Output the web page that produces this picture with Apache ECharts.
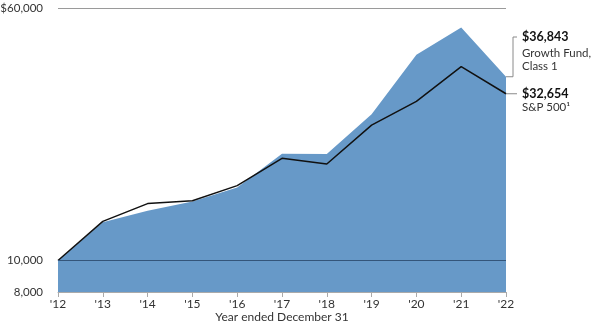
<!DOCTYPE html>
<html>
<head>
<meta charset="utf-8">
<script src="https://cdn.jsdelivr.net/npm/echarts@6/dist/echarts.min.js"></script>
<style>
  html, body { margin: 0; padding: 0; background: #fff; }
  #chart { width: 592px; height: 324px; }
</style>
</head>
<body>
<div id="chart"></div>
<script>
// Growth of a $10,000 investment, year-end values (log scale)
const years = ["'12", "'13", "'14", "'15", "'16", "'17", "'18", "'19", "'20", "'21", "'22"];
const growthFund = [10000, 13130, 14240, 15200, 16780, 21340, 21300, 28240, 43060, 52220, 36843];
const sp500 = [10000, 13200, 14980, 15280, 17020, 20650, 19840, 26140, 30950, 39560, 32654];
const yTicks = [8000, 10000, 60000];

const FONT = 'Lato, "Noto Sans", sans-serif';
const chart = echarts.init(document.getElementById('chart'));

const fmtMoney = v => '$' + v.toLocaleString('en-US');

chart.setOption({
  animation: false,
  grid: { left: 58, right: 86, top: 8, bottom: 32, containLabel: false, outerBoundsMode: 'none' },
  xAxis: {
    type: 'category',
    data: years,
    boundaryGap: false,
    name: 'Year ended December 31',
    nameLocation: 'middle',
    nameGap: 19,
    nameMoveOverlap: false,
    nameTextStyle: { fontFamily: FONT, fontSize: 12, color: '#333' },
    axisLine: { show: true, lineStyle: { color: '#aaa', width: 1 } },
    axisTick: { show: true, length: 5, lineStyle: { color: '#aaa' } },
    axisLabel: { fontFamily: FONT, fontSize: 12, color: '#333', margin: 6 }
  },
  yAxis: {
    type: 'log',
    logBase: 10,
    min: 8000,
    max: 60000,
    axisLine: { show: false },
    axisTick: { show: false },
    splitLine: { show: false },
    axisLabel: {
      customValues: yTicks,
      fontFamily: FONT,
      fontSize: 11.5,
      color: '#333',
      margin: 15,
      formatter: v => (v === 60000 ? fmtMoney(v) : v.toLocaleString('en-US'))
    }
  },
  series: [
    {
      name: 'Growth Fund, Class 1',
      type: 'line',
      data: growthFund,
      symbol: 'none',
      lineStyle: { width: 0 },
      areaStyle: { color: '#6799c8', opacity: 1, origin: 'start' },
      z: 2,
      markLine: {
        silent: true,
        symbol: 'none',
        label: { show: false },
        data: [
          { yAxis: 10000, lineStyle: { color: '#34557a', width: 1, type: 'solid' } },
          { yAxis: 60000, lineStyle: { color: '#9a9a9a', width: 1, type: 'solid' } }
        ]
      }
    },
    {
      name: 'S&P 500',
      type: 'line',
      data: sp500,
      symbol: 'none',
      lineStyle: { color: '#111', width: 1.5 },
      z: 3
    }
  ]
});

// Callouts for the final values, placed from the series' last points
function addCallouts() {
  const last = years.length - 1;
  const pG = chart.convertToPixel({ seriesIndex: 0 }, [last, growthFund[last]]);
  const pS = chart.convertToPixel({ seriesIndex: 1 }, [last, sp500[last]]);
  const gTextY = 37;
  const elbowX = pG[0] + 7;
  const textX = pG[0] + 16;
  const leader = { stroke: '#8a8a8a', lineWidth: 1, fill: null };
  chart.setOption({
    graphic: [
      { type: 'polyline', shape: { points: [[pG[0], pG[1]], [elbowX, pG[1]], [elbowX, gTextY], [elbowX + 4, gTextY]] }, style: leader },
      { type: 'text', x: textX, y: gTextY, style: { text: fmtMoney(growthFund[last]), font: 'bold 12.5px ' + FONT, fill: '#111', verticalAlign: 'middle' } },
      { type: 'text', x: textX, y: gTextY + 10, style: { text: 'Growth Fund,\nClass 1', font: '11.5px ' + FONT, fill: '#333', lineHeight: 13, verticalAlign: 'top' } },
      { type: 'polyline', shape: { points: [[pS[0], pS[1]], [elbowX + 4, pS[1]]] }, style: leader },
      { type: 'text', x: textX, y: pS[1], style: { text: fmtMoney(sp500[last]), font: 'bold 12.5px ' + FONT, fill: '#111', verticalAlign: 'middle' } },
      { type: 'text', x: textX, y: pS[1] + 8, style: { text: 'S&P 500\u00b9', font: '11.5px ' + FONT, fill: '#333', verticalAlign: 'top' } }
    ]
  });
}
addCallouts();
</script>
</body>
</html>
